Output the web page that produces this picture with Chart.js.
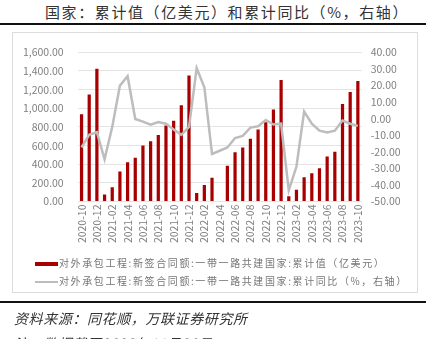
<!DOCTYPE html>
<html>
<head>
<meta charset="utf-8">
<script src="https://cdn.jsdelivr.net/npm/chart.js@4/dist/chart.umd.min.js"></script>
<style>
  body { margin: 0; width: 432px; height: 339px; overflow: hidden; background: #fff; position: relative;
         font-family: "Noto Sans CJK SC", sans-serif; }
  #title { position: absolute; left: 45px; top: 1px; font-size: 15px; letter-spacing: 1.6px; color: #333; white-space: nowrap; }
  .rule { position: absolute; left: 0; width: 426px; height: 2px; background: #111; }
  #box { position: absolute; left: 12px; top: 32px; width: 406px; height: 261px; border: 1px solid #dcdcdc; box-sizing: border-box; }
  #myChart { position: absolute; left: 12px; top: 32px; }
  #legend { position: absolute; left: 35px; top: 254px; font-size: 10px; letter-spacing: 1.6px; color: #777; }
  #legend div { height: 17.5px; line-height: 17.5px; white-space: nowrap; }
  #legend span.sym { display: inline-block; width: 23px; vertical-align: middle; margin-right: 1px; }
  .note { position: absolute; left: 14px; font-size: 14px; font-style: italic; color: #333; white-space: nowrap; letter-spacing: 0.6px; }
</style>
</head>
<body>
<div id="title">国家：累计值（亿美元）和累计同比（%，右轴）</div>
<div class="rule" style="top:23px"></div>
<div id="box"></div>
<canvas id="myChart" width="406" height="226"></canvas>
<div id="legend"></div>
<div class="rule" style="top:301px"></div>
<div class="note" style="top:308px">资料来源：同花顺，万联证券研究所</div>
<div class="note" style="top:333px">注：数据截至2023年11月30日</div>
<script>
const months = [
  "2020-10", "2020-11", "2020-12",
  "2021-01", "2021-02", "2021-03", "2021-04", "2021-05", "2021-06",
  "2021-07", "2021-08", "2021-09", "2021-10", "2021-11", "2021-12",
  "2022-01", "2022-02", "2022-03", "2022-04", "2022-05", "2022-06",
  "2022-07", "2022-08", "2022-09", "2022-10", "2022-11", "2022-12",
  "2023-01", "2023-02", "2023-03", "2023-04", "2023-05", "2023-06",
  "2023-07", "2023-08", "2023-09", "2023-10"
];

// cumulative value, 100 million USD (left axis)
const cumValue = [
  936, 1147, 1423,
  74, 152, 322, 421, 469, 601,
  646, 714, 816, 867, 1031, 1352,
  90, 176, 254, null, 383, 527,
  578, 673, 772, 851, 987, 1304,
  56, 125, 261, 302, 356, 482,
  533, 1045, 1174, 1293
];

// cumulative YoY, % (right axis)
const cumYoY = [
  -17.4, -9.8, -8.2,
  -24.5, -5.0, 19.9, 25.6, -0.2, -1.8,
  -3.6, -2.1, -3.1, -6.5, -9.8, -5.0,
  30.4, 18.9, -21.3, -19.4, -17.4, -11.7,
  -10.4, -5.4, -4.6, -0.8, -3.6, -3.1,
  -43.3, -28.9, 4.2, -3.1, -7.3, -8.4,
  -7.3, -1.2, -3.1, -4.4
];

const seriesNames = [
  "对外承包工程:新签合同额:一带一路共建国家:累计值（亿美元）",
  "对外承包工程:新签合同额:一带一路共建国家:累计同比（%，右轴）"
];

const barColor = "#a80000";
const lineColor = "#bdbdbd";
const tickColor = "#808080";
const tickFont = { family: "'Noto Sans CJK SC', sans-serif", size: 10.5 };

function fmt(v) {
  return v.toLocaleString("en-US", { minimumFractionDigits: 2, maximumFractionDigits: 2 });
}

const ctx = document.getElementById("myChart").getContext("2d");
const chart = new Chart(ctx, {
  type: "bar",
  data: {
    labels: months,
    datasets: [{
      label: seriesNames[0],
      data: cumValue,
      backgroundColor: barColor,
      yAxisID: "y",
      categoryPercentage: 1.0,
      barPercentage: 0.42,
      order: 2
    }, {
      label: seriesNames[1],
      type: "line",
      data: cumYoY,
      borderColor: lineColor,
      borderWidth: 2.5,
      pointRadius: 0,
      tension: 0,
      fill: false,
      yAxisID: "y1",
      order: 1
    }]
  },
  options: {
    responsive: false,
    devicePixelRatio: 1,
    animation: false,
    layout: { padding: { top: 13, left: 0, right: 0, bottom: 0 } },
    plugins: { legend: { display: false }, tooltip: { enabled: false } },
    scales: {
      x: {
        grid: { display: false, drawTicks: false },
        border: { display: false },
        ticks: {
          autoSkip: false, maxRotation: 90, minRotation: 90, padding: 3,
          color: tickColor, font: tickFont,
          callback: function (val, i) { return i % 2 === 0 ? months[i] : ""; }
        },
        afterFit: function (scale) { scale.height = 56.5; }
      },
      y: {
        position: "left",
        min: 0, max: 1600,
        ticks: { stepSize: 200, padding: 14, color: tickColor, font: tickFont, callback: v => fmt(v) },
        grid: { color: "#e4e4e4", lineWidth: 1, drawTicks: false },
        border: { display: false },
        afterFit: function (scale) { scale.width = 65.7; }
      },
      y1: {
        position: "right",
        min: -50, max: 40,
        ticks: { stepSize: 10, padding: 9, color: tickColor, font: tickFont, callback: v => fmt(v) },
        grid: { display: false, drawTicks: false },
        border: { display: false },
        afterFit: function (scale) { scale.width = 56.3; }
      }
    }
  }
});

// legend built from the dataset labels
const legend = document.getElementById("legend");
chart.data.datasets.forEach((ds, i) => {
  const row = document.createElement("div");
  const sym = document.createElement("span");
  sym.className = "sym";
  sym.style.height = i === 0 ? "4px" : "2px";
  sym.style.background = i === 0 ? barColor : lineColor;
  row.appendChild(sym);
  row.appendChild(document.createTextNode(ds.label));
  legend.appendChild(row);
});
</script>
</body>
</html>
